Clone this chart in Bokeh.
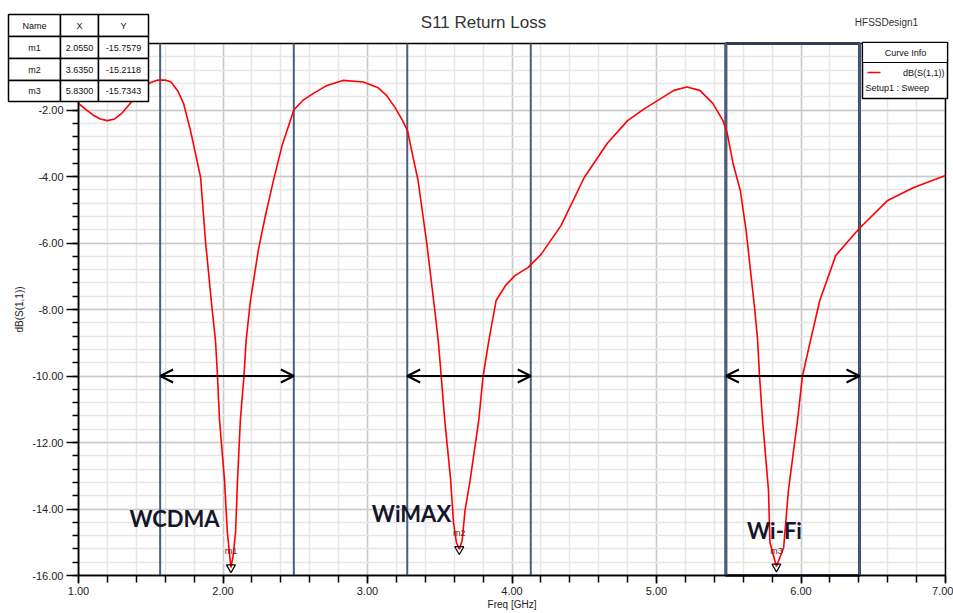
import numpy as np
from bokeh.plotting import figure
from bokeh.models import (Range1d, FixedTicker, PrintfTickFormatter, Arrow,
                          OpenHead, Label, BoxAnnotation)
from bokeh.embed import file_html
from bokeh.resources import INLINE

# ---------------- data ----------------
freq = [1.00, 1.05, 1.10, 1.15, 1.20, 1.25, 1.30, 1.35, 1.40, 1.45, 1.50, 1.55,
        1.60, 1.64, 1.685, 1.727, 1.775, 1.81, 1.845, 1.88, 1.925, 1.948, 1.962,
        1.976, 2.01, 2.03, 2.055, 2.07, 2.087, 2.10, 2.12, 2.145, 2.16, 2.19,
        2.245, 2.295, 2.35, 2.41, 2.49, 2.55, 2.626, 2.72, 2.83, 2.97, 3.07,
        3.13, 3.19, 3.24, 3.277, 3.31, 3.35, 3.41, 3.465, 3.49, 3.51, 3.535,
        3.575, 3.595, 3.615, 3.635, 3.655, 3.675, 3.71, 3.77, 3.80, 3.84, 3.89,
        3.955, 4.02, 4.11, 4.20, 4.34, 4.50, 4.66, 4.80, 4.92, 5.01, 5.12, 5.21,
        5.30, 5.39, 5.46, 5.49, 5.53, 5.58, 5.62, 5.68, 5.70, 5.713, 5.734,
        5.775, 5.785, 5.83, 5.88, 5.913, 5.976, 6.01, 6.066, 6.13, 6.24, 6.40,
        6.60, 6.78, 7.00]
s11 = [-1.80, -1.98, -2.15, -2.27, -2.32, -2.27, -2.10, -1.84, -1.56, -1.33, -1.17, -1.10,
       -1.10, -1.16, -1.41, -1.80, -2.62, -3.31, -4.03, -6.00, -8.00, -8.93, -10.00,
       -11.33, -13.10, -14.70, -15.76, -15.40, -14.70, -13.20, -11.33, -10.00, -8.93, -7.73,
       -6.20, -5.15, -4.10, -3.05, -2.00, -1.72, -1.50, -1.26, -1.11, -1.16, -1.32,
       -1.55, -1.92, -2.30, -2.62, -3.31, -4.12, -6.00, -8.00, -8.95, -10.00, -11.35,
       -13.10, -14.40, -15.00, -15.21, -14.95, -14.04, -13.14, -11.33, -10.00, -8.93, -7.73,
       -7.28, -6.98, -6.74, -6.35, -5.47, -4.03, -3.00, -2.32, -1.95, -1.71, -1.41, -1.31,
       -1.41, -1.80, -2.32, -2.71, -3.61, -4.42, -5.62, -8.00, -8.93, -10.00, -11.33,
       -13.44, -15.00, -15.73, -15.16, -13.44, -11.33, -10.00, -8.93, -7.73, -6.38, -5.58,
       -4.72, -4.33, -3.97]

marker_names = ["m1", "m2", "m3"]
marker_x = [2.0550, 3.6350, 5.8300]
marker_y = [-15.7579, -15.2118, -15.7343]
marker_x_txt = ["2.0550", "3.6350", "5.8300"]
marker_y_txt = ["-15.7579", "-15.2118", "-15.7343"]

band_names = ["WCDMA", "WiMAX", "Wi-Fi"]
band_lo = [1.565, 3.275, 5.48]
band_hi = [2.49, 4.13, 6.405]
arrow_level = -10.0

x_ticks = [1, 2, 3, 4, 5, 6, 7]
y_ticks = [-16, -14, -12, -10, -8, -6, -4, -2]

# ---------------- layout helpers (pixel -> data) ----------------
W, H = 953, 613
L, R, T, B = 78, 945, 43, 575
X0, X1, Y0, Y1 = 1.0, 7.0, -16.0, 0.0
def fx(px):
    return X0 + (px - L) * (X1 - X0) / (R - L)
def fy(py):
    return Y1 - (py - T) * (Y1 - Y0) / (B - T)

XS, XE = fx(0), fx(W)
YT, YB = fy(0), fy(H)
FONT = "Liberation Sans"

p = figure(width=W, height=H, output_backend="svg", toolbar_location=None,
           x_range=Range1d(XS, XE), y_range=Range1d(YB, YT),
           min_border_left=0, min_border_right=0,
           min_border_top=0, min_border_bottom=0)
p.background_fill_color = "white"
p.border_fill_color = "white"
p.outline_line_color = None

# axes (drawn at the plot rectangle edges inside a full-canvas frame)
p.xaxis.ticker = FixedTicker(ticks=x_ticks, minor_ticks=list(np.round(np.arange(1.0, 7.01, 0.2), 2)))
p.yaxis.ticker = FixedTicker(ticks=y_ticks, minor_ticks=list(np.round(np.arange(-16.0, 0.01, 0.4), 2)))
p.yaxis.fixed_location = X0
p.xaxis.fixed_location = Y0
p.yaxis.bounds = (Y0, Y1)
p.xaxis.bounds = (X0, X1)
for ax in (p.xaxis[0], p.yaxis[0]):
    ax.formatter = PrintfTickFormatter(format="%.2f")
    ax.axis_line_color = "black"
    ax.axis_line_width = 1.5
    ax.major_tick_line_color = "black"
    ax.minor_tick_line_color = "black"
    ax.major_tick_line_width = 1.5
    ax.minor_tick_line_width = 1.5
    ax.major_tick_in = 0
    ax.minor_tick_in = 0
    ax.major_label_text_font = FONT
    ax.major_label_text_font_size = "11px"
    ax.major_label_text_color = "#222222"
    ax.axis_label_text_font = FONT
    ax.axis_label_text_font_size = "10px"
    ax.axis_label_text_font_style = "normal"
    ax.axis_label_text_color = "#222222"
p.yaxis.major_tick_out = 12
p.yaxis.minor_tick_out = 6
p.xaxis.major_tick_out = 8
p.xaxis.minor_tick_out = 7
p.xaxis.major_label_standoff = 3
p.xaxis.axis_label_standoff = 1
p.yaxis.major_label_standoff = 3
p.yaxis.axis_label_standoff = 4
p.xaxis.axis_label = "Freq [GHz]"
p.yaxis.axis_label = "dB(S(1,1))"

# grid
for g in (p.xgrid[0], p.ygrid[0]):
    g.grid_line_color = "#c9c9c9"
    g.grid_line_width = 1.5
    g.minor_grid_line_color = "#e6e6e6"
    g.minor_grid_line_width = 1.5

# white covers outside the plotting rectangle (hide grid there)
for (l, r, b, t) in [(XS, X0, YB, YT), (X1, XE, YB, YT), (XS, XE, Y1, YT), (XS, XE, YB, Y0)]:
    p.add_layout(BoxAnnotation(left=l, right=r, bottom=b, top=t, fill_color="white",
                               fill_alpha=1, line_alpha=0, level="underlay"))

# frame (top/right edges)
p.add_layout(BoxAnnotation(left=X0, right=X1, bottom=Y0, top=Y1, fill_alpha=0,
                           line_color="black", line_alpha=1, line_width=1.5,
                           level="underlay"))

# band lines
p.segment(x0=band_lo + band_hi, y0=[Y0] * 6, x1=band_lo + band_hi, y1=[Y1] * 6,
          line_color="#4a5f7d", line_width=2)
# Wi-Fi box
p.add_layout(BoxAnnotation(left=band_lo[2], right=band_hi[2], top=Y1, bottom=Y0,
                           fill_alpha=0, line_color="#2f3f57", line_alpha=1,
                           line_width=3, level="underlay"))

# curve
p.line(freq, s11, line_color="red", line_width=1.6)

# arrows
for lo, hi in zip(band_lo, band_hi):
    p.add_layout(Arrow(x_start=lo, x_end=hi, y_start=arrow_level, y_end=arrow_level,
                       line_color="black", line_width=2,
                       start=OpenHead(size=13, line_width=2, line_color="black"),
                       end=OpenHead(size=13, line_width=2, line_color="black")))

# markers
p.scatter(marker_x, marker_y, marker="inverted_triangle", size=9,
          fill_alpha=0, line_color="black", line_width=1.2)
for n, mx, my in zip(marker_names, marker_x, marker_y):
    p.add_layout(Label(x=mx, y=my, text=n, text_font=FONT, text_font_size="9px",
                       text_color="#5a2020", text_align="center", y_offset=11,
                       text_baseline="bottom"))

# band names
band_label_px = [(174, 518), (411, 513), (774, 530)]
for name, (bx, by) in zip(band_names, band_label_px):
    p.add_layout(Label(x=fx(bx), y=fy(by), text=name, text_font="Lato",
                       text_font_style="bold", text_font_size="22px",
                       text_color="#16162a", text_align="center", text_baseline="middle"))

# title & design name
p.add_layout(Label(x=fx(483), y=fy(22), text="S11 Return Loss", text_font=FONT,
                   text_font_size="17px", text_color="#333333",
                   text_align="center", text_baseline="middle"))
p.add_layout(Label(x=fx(886), y=fy(22), text="HFSSDesign1", text_font=FONT,
                   text_font_size="10px", text_color="#333333",
                   text_align="center", text_baseline="middle"))

# marker table
cols = [8, 60, 98, 148]
rows = [14, 36, 58, 80, 101]
for ri in range(4):
    for ci in range(3):
        p.add_layout(BoxAnnotation(left=fx(cols[ci]), right=fx(cols[ci + 1]),
                                   top=fy(rows[ri]), bottom=fy(rows[ri + 1]),
                                   fill_color="white", fill_alpha=1,
                                   line_color="black", line_alpha=1,
                                   line_width=1.5, level="overlay"))
table_rows = [["Name", "X", "Y"]] + [[n, xs, ys] for n, xs, ys in
                                     zip(marker_names, marker_x_txt, marker_y_txt)]
for ri, row in enumerate(table_rows):
    for ci, txt in enumerate(row):
        p.add_layout(Label(x=fx((cols[ci] + cols[ci + 1]) / 2), y=fy((rows[ri] + rows[ri + 1]) / 2),
                           text=txt, text_font=FONT, text_font_size="9px",
                           text_color="#111111", text_align="center",
                           text_baseline="middle", level="overlay"))

# curve info box
p.add_layout(BoxAnnotation(left=fx(862), right=fx(947), top=fy(42), bottom=fy(98),
                           fill_color="white", fill_alpha=1, line_color="black",
                           line_alpha=1, line_width=1.5, level="overlay"))
p.add_layout(BoxAnnotation(left=fx(862), right=fx(947), top=fy(42), bottom=fy(62),
                           fill_color="white", fill_alpha=1, line_color="black",
                           line_alpha=1, line_width=1.2, level="overlay"))
p.add_layout(Label(x=fx(905), y=fy(52), text="Curve Info", text_font=FONT,
                   text_font_size="9px", text_color="#111111", text_align="center",
                   text_baseline="middle", level="overlay"))
p.add_layout(Arrow(x_start=fx(867), x_end=fx(880), y_start=fy(72), y_end=fy(72),
                   start=None, end=None, line_color="red", line_width=1.5, level="overlay"))
p.add_layout(Label(x=fx(944), y=fy(72), text="dB(S(1,1))", text_font=FONT,
                   text_font_size="9px", text_color="#111111", text_align="right",
                   text_baseline="middle", level="overlay"))
p.add_layout(Label(x=fx(865), y=fy(87), text="Setup1 : Sweep", text_font=FONT,
                   text_font_size="9px", text_color="#111111", text_align="left",
                   text_baseline="middle", level="overlay"))

open("out.html", "w").write(file_html(p, INLINE))
